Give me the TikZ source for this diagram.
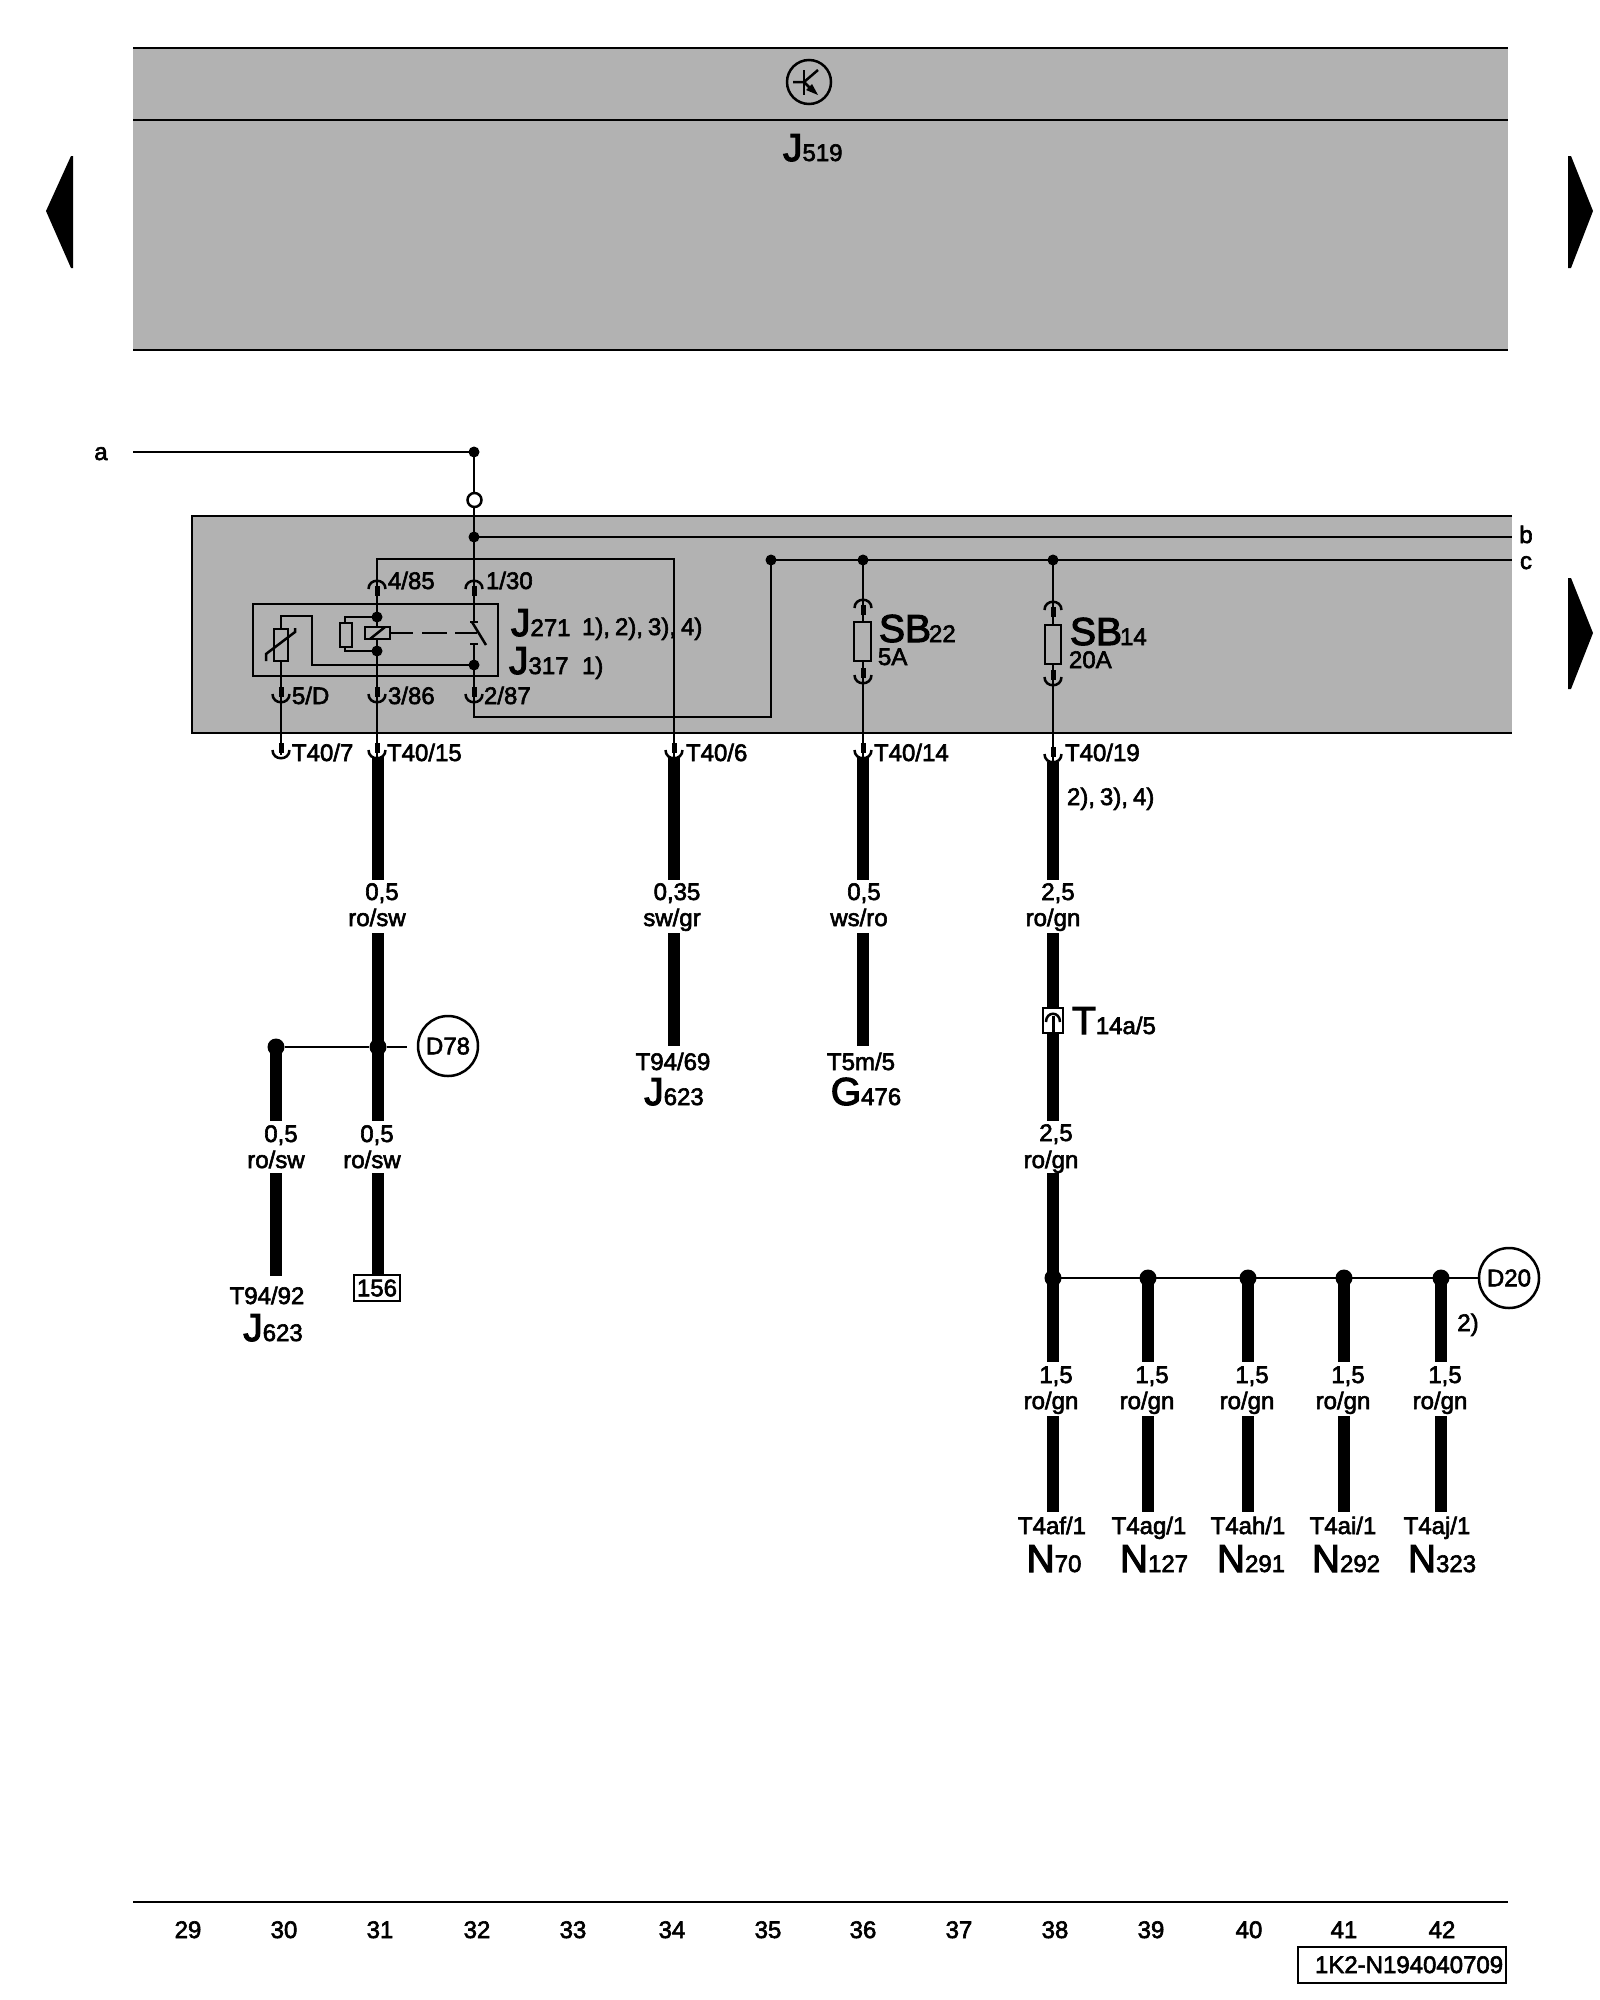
\documentclass[tikz,border=0pt]{standalone}
\usepackage{fontspec}
\setmainfont{Liberation Sans}[FakeBold=2.5]
\newfontfamily\bigface{Liberation Sans}[FakeBold=3]
\newcommand\fs{\fontsize{24}{28}\selectfont}
\newcommand\fb{\bigface\fontsize{39}{44}\selectfont}
\newcommand\mk[2]{{\fb #1}{\fs #2}}
\newcommand\plugdn[2]{%
  \draw[thinw] (#1-8.5,#2-8) .. controls (#1-8.5,#2+3) and (#1+8.5,#2+3) .. (#1+8.5,#2-8);
  \draw[line width=5pt] (#1,#2-15) -- (#1,#2-5);}
\newcommand\plugup[2]{%
  \draw[thinw] (#1-8.5,#2+8) .. controls (#1-8.5,#2-3) and (#1+8.5,#2-3) .. (#1+8.5,#2+8);
  \draw[line width=5pt] (#1,#2+15) -- (#1,#2+5);}
\tikzset{
  x=1pt,y=-1pt,
  thinw/.style={line width=2.5pt},
  fat/.style={line width=12pt},
  border/.style={line width=2.5pt},
  lab/.style={inner sep=0pt,outer sep=0pt,anchor=base,font=\fs},
  labw/.style={inner sep=0pt,outer sep=0pt,anchor=base west,font=\fs},
  dot/.style={circle,fill=black,inner sep=0pt,minimum size=#1},
  dot/.default=11pt,
  ring/.style={circle,draw=black,line width=2.5pt,inner sep=0pt,minimum size=60pt,font=\fs,fill=white},
}
\definecolor{panel}{RGB}{178,178,178}
\begin{document}
\begin{tikzpicture}
\useasboundingbox (0,0) rectangle (1600,2000);
\fill[white] (0,0) rectangle (1600,2000);
% top panel
\fill[panel] (133,48) rectangle (1508,350);
\draw[border] (133,48) -- (1508,48);
\draw[border] (133,120) -- (1508,120);
\draw[border] (133,350) -- (1508,350);
\node[circle,draw,line width=2.5pt,minimum size=44pt,inner sep=0pt] (trans) at (809,82) {};
\draw[thinw] (804,70) -- (804,95);
\draw[thinw] (793,82) -- (804,82) -- (818,70);
\draw[thinw] (804,82) -- (812,90);
\fill (806,90) -- (812,84) -- (818,95) -- cycle;
\node[labw] (j519) at (783,161) {\mk{J}{519}};
% page arrows
\fill (46,211) -- (71,156) -- (73,156) -- (73,268) -- (71,268) -- cycle;
\fill (1593,211) -- (1571,156) -- (1568,156) -- (1568,268) -- (1571,268) -- cycle;
\fill (1593,633) -- (1571,578) -- (1568,578) -- (1568,689) -- (1571,689) -- cycle;
% fuse panel
\fill[panel] (192,516) rectangle (1512,733);
\draw[border] (1512,516) -- (192,516) -- (192,733) -- (1512,733);
% coordinates
\coordinate (aEnd) at (133,452);
\coordinate (aJ) at (474,452);
\coordinate (bJ) at (474,537);
\coordinate (bEnd) at (1512,537);
\coordinate (cJ) at (771,560);
\coordinate (cEnd) at (1512,560);
\coordinate (s36) at (863,560);
\coordinate (s38) at (1053,560);
% a b c
\node[lab] (la) at (101,460) {a};
\node[lab] (lb) at (1526,543) {b};
\node[lab] (lc) at (1526,569) {c};
\draw[thinw] (aEnd) -- (aJ);
\draw[thinw] (aJ) -- (474,604);
\draw[thinw] (bJ) -- (bEnd);
\draw[thinw] (cJ) -- (cEnd);
\node[dot] at (aJ) {};
\node[circle,draw,line width=2.5pt,fill=white,inner sep=0pt,minimum size=14pt] (open) at (474.5,500) {};
\node[dot] at (bJ) {};
\node[dot] at (cJ) {};
\node[dot] at (s36) {};
\node[dot] at (s38) {};
% relay wiring
\draw[thinw] (377,604) -- (377,559) -- (674,559) -- (674,760);
\draw[thinw] (474,644) -- (474,717) -- (771,717) -- (cJ);
\draw[thinw] (377,604) -- (377,760);
\draw[thinw] (281,661) -- (281,755);
\draw[thinw] (474,604) -- (474,622);
\draw[border] (253,604) rectangle (498,676);
% thermistor
\draw[thinw] (274,629) rectangle (288,661);
\draw[thinw] (281,629) -- (281,616) -- (312,616) -- (312,665) -- (474,665);
\draw[thinw] (266,661) -- (266,654) -- (295,632) -- (295,628);
% coil
\draw[thinw] (345,623) -- (345,617) -- (377,617);
\draw[thinw] (345,647) -- (345,651) -- (377,651);
\draw[thinw,fill=panel] (340,623) rectangle (352,647);
\draw[thinw,fill=panel] (365,627) rectangle (390,639);
\draw[thinw] (370,639) -- (385,627);
\node[dot] at (377,617) {};
\node[dot] at (377,651) {};
\node[dot] at (474,665) {};
\draw[thinw] (390,633) -- (413,633);
\draw[thinw] (422,633) -- (447,633);
\draw[thinw] (455,633) -- (477,633);
\draw[thinw] (470,622) -- (478,622);
\draw[thinw] (472,622) -- (486,645);
\draw[thinw] (470,644) -- (478,644);
% plugs
\plugup{377}{581}
\plugup{474}{581}
\plugdn{281}{702}
\plugdn{377}{702}
\plugdn{474}{702}
\plugdn{281}{758}
\plugdn{377}{758}
\plugdn{674}{758}
% relay labels
\node[labw] (p485) at (388,589) {4/85};
\node[labw] (p130) at (486,589) {1/30};
\node[labw] (p5d) at (292,704) {5/D};
\node[labw] (p386) at (388,704) {3/86};
\node[labw] (p287) at (484,704) {2/87};
\node[labw] (j271) at (511,636) {\mk{J}{271}};
\node[labw] (n271) at (582,635) {1),\kern5pt 2),\kern5pt 3),\kern5pt 4)};
\node[labw] (j317) at (509,674) {\mk{J}{317}};
\node[labw] (n317) at (582,674) {1)};
\node[labw] (t407) at (292,761) {T40/7};
\node[labw] (t4015) at (387,761) {T40/15};
\node[labw] (t406) at (686,761) {T40/6};
\node[labw] (t4014) at (874,761) {T40/14};
\node[labw] (t4019) at (1065,761) {T40/19};
\node[labw] (n38) at (1067,805) {2),\kern5pt 3),\kern5pt 4)};
% fuses
\draw[thinw] (s36) -- (863,760);
\draw[thinw] (s38) -- (1053,762);
\draw[thinw,fill=panel] (854,622) rectangle (871,661);
\draw[thinw,fill=panel] (1045,625) rectangle (1061,664);
\plugup{863}{600}
\plugdn{863}{683}
\plugup{1053}{602}
\plugdn{1053}{685}
\plugdn{863}{758}
\plugdn{1053}{762}
\node[labw] (sb22) at (879,642) {\mk{SB}{\kern-2pt 22}};
\node[labw] (a5) at (878,665) {5A};
\node[labw] (sb14) at (1070,645) {\mk{SB}{\kern-2pt 14}};
\node[labw] (a20) at (1069,668) {20A};
% wire 31
\draw[fat] (378,757) -- (378,880);
\draw[fat] (378,933) -- (378,1121);
\draw[fat] (378,1173) -- (378,1276);
\node[lab] at (382,900) {0,5};
\node[lab] at (377,926) {ro/sw};
% branch D78
\node[dot=17pt] (d78L) at (276,1047) {};
\node[dot=17pt] (d78J) at (378,1047) {};
\node[ring] (d78) at (448,1046) {D78};
\draw[thinw] (d78L) -- (d78J) -- (407,1047);
\draw[fat] (276,1047) -- (276,1121);
\draw[fat] (276,1173) -- (276,1276);
\node[lab] at (281,1142) {0,5};
\node[lab] at (276,1168) {ro/sw};
\node[lab] at (377,1142) {0,5};
\node[lab] at (372,1168) {ro/sw};
\node[lab] at (267,1304) {T94/92};
\node[lab] at (273,1341) {\mk{J}{623}};
\node[draw,line width=2.5pt,fill=white,minimum width=46pt,minimum height=26pt,inner sep=0pt,font=\fs] (b156) at (377,1288) {156};
% wire 34
\draw[fat] (674,757) -- (674,880);
\draw[fat] (674,933) -- (674,1046);
\node[lab] at (677,900) {0,35};
\node[lab] at (672,926) {sw/gr};
\node[lab] at (673,1070) {T94/69};
\node[lab] at (674,1105) {\mk{J}{623}};
% wire 36
\draw[fat] (863,757) -- (863,880);
\draw[fat] (863,933) -- (863,1046);
\node[lab] at (864,900) {0,5};
\node[lab] at (859,926) {ws/ro};
\node[lab] at (861,1070) {T5m/5};
\node[lab] at (866,1105) {\mk{G}{476}};
% wire 38
\draw[fat] (1053,762) -- (1053,880);
\draw[fat] (1053,933) -- (1053,1121);
\draw[fat] (1053,1173) -- (1053,1362);
\node[lab] at (1058,900) {2,5};
\node[lab] at (1053,926) {ro/gn};
\node[draw,line width=2.5pt,fill=white,minimum width=20pt,minimum height=25pt,inner sep=0pt] (t14) at (1053,1020.5) {};
\draw[thinw] (1046,1022) .. controls (1046,1011) and (1060,1011) .. (1060,1022);
\draw[line width=3pt] (1053,1016) -- (1053,1032);
\node[labw] (t14a) at (1072,1034) {\mk{T}{14a/5}};
\node[lab] at (1056,1141) {2,5};
\node[lab] at (1051,1168) {ro/gn};
% bus D20
\node[ring] (d20) at (1509,1278) {D20};
\coordinate (bus) at (1053,1278);
\draw[thinw] (bus) -- (1479,1278);
\foreach \x/\nm in {1053/a,1148/b,1248/c,1344/d,1441/e}{
  \node[dot=17pt] (bus\nm) at (\x,1278) {};
  \draw[fat] (\x,1278) -- (\x,1362);
  \draw[fat] (\x,1416) -- (\x,1512);
}
\node[lab] at (1468,1331) {2)};
\foreach \x/\y/\t/\m/\n in {1052/1051/T4af\slash 1/1054/70,1149/1147/T4ag\slash 1/1154/127,1248/1247/T4ah\slash 1/1251/291,1343/1343/T4ai\slash 1/1346/292,1437/1440/T4aj\slash 1/1442/323}{
  \node[lab] at (\y+5,1383) {1,5};
  \node[lab] at (\y,1409) {ro/gn};
  \node[lab] at (\x,1534) {\t};
  \node[lab] at (\m,1572) {\mk{N}{\n}};
}
% footer
\draw[border] (133,1902) -- (1508,1902);
\foreach \x/\n in {188/29,284/30,380/31,477/32,573/33,672/34,768/35,863/36,959/37,1055/38,1151/39,1249/40,1344/41,1442/42}{
  \node[lab] at (\x,1938) {\n};
}
\draw[border] (1298,1947) rectangle (1506,1983);
\node[labw] (code) at (1315,1973) {1K2-N194040709};
\end{tikzpicture}
\end{document}
